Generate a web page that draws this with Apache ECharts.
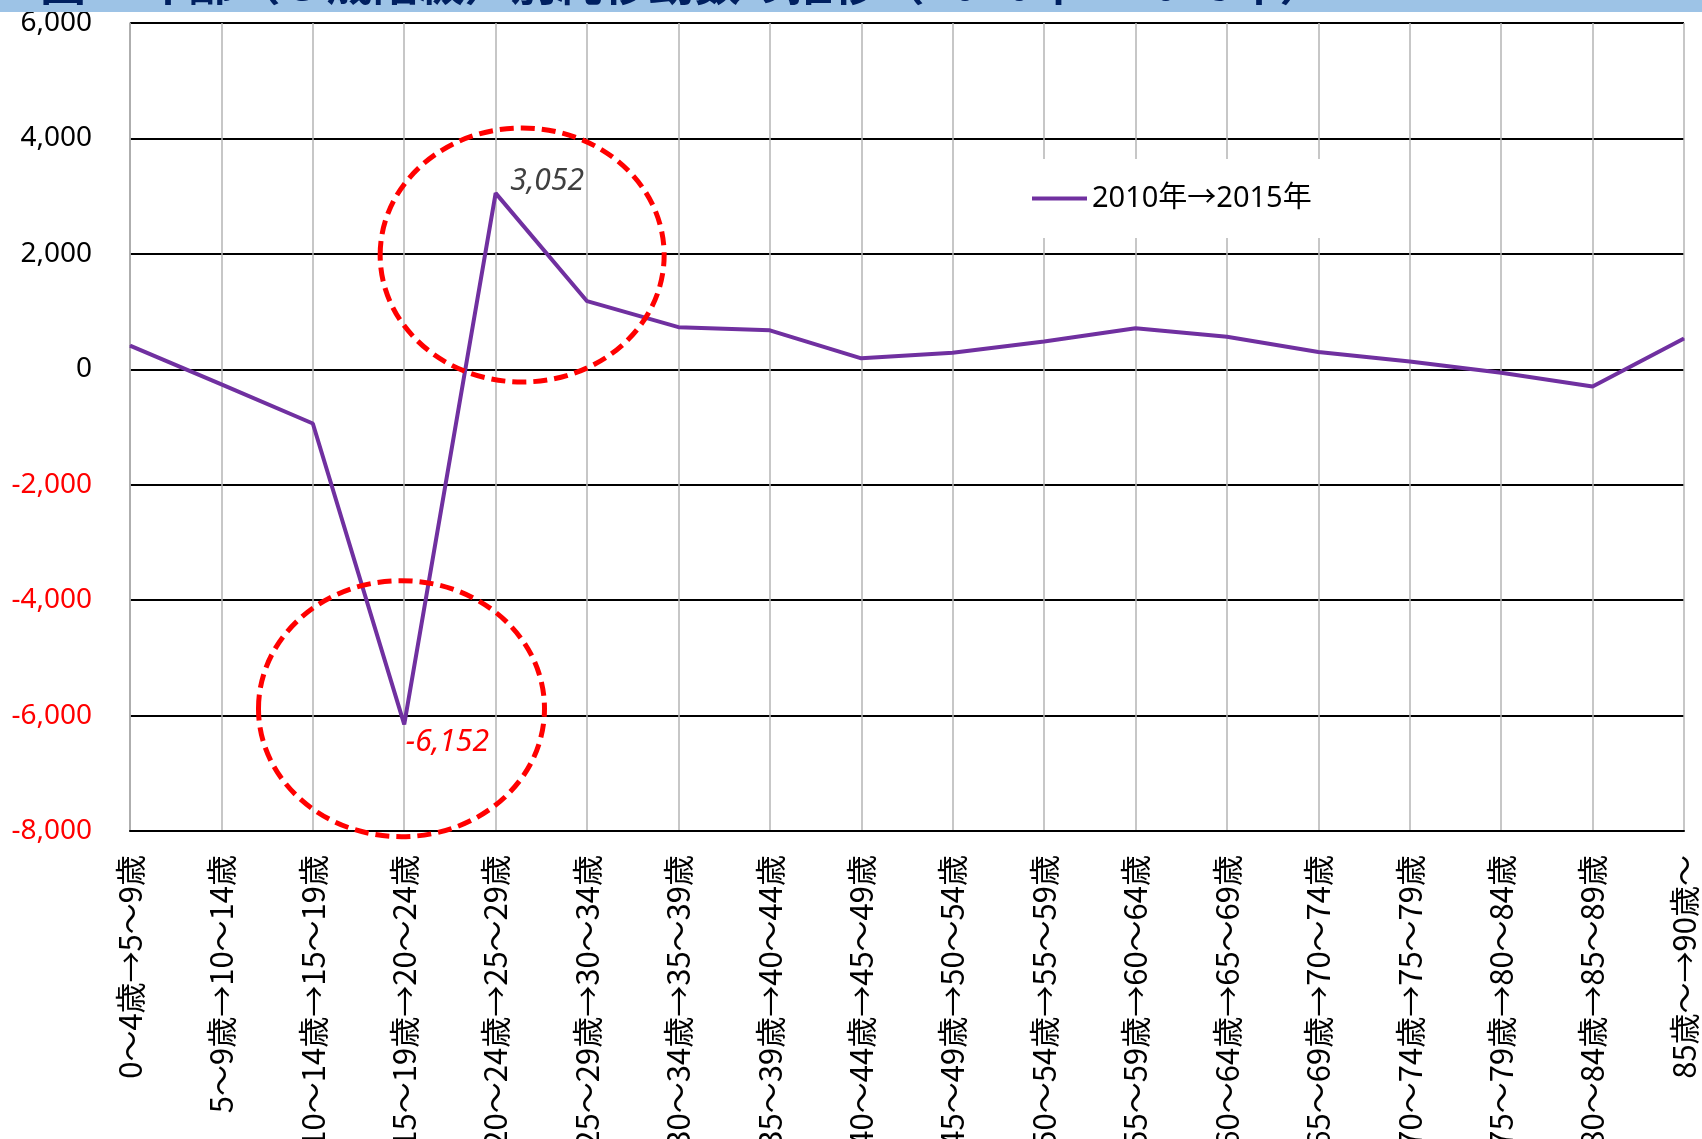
<!DOCTYPE html>
<html>
<head>
<meta charset="utf-8">
<script src="https://cdn.jsdelivr.net/npm/echarts@6/dist/echarts.min.js"></script>
<style>
  html, body { margin: 0; padding: 0; background: #fff; }
  #chart { width: 1702px; height: 1139px; }
</style>
</head>
<body>
<div id="chart"></div>
<script>
// Age-cohort transitions (5-year groups), 2010 -> 2015
const categories = [
  '0～4歳→5～9歳', '5～9歳→10～14歳', '10～14歳→15～19歳', '15～19歳→20～24歳',
  '20～24歳→25～29歳', '25～29歳→30～34歳', '30～34歳→35～39歳', '35～39歳→40～44歳',
  '40～44歳→45～49歳', '45～49歳→50～54歳', '50～54歳→55～59歳', '55～59歳→60～64歳',
  '60～64歳→65～69歳', '65～69歳→70～74歳', '70～74歳→75～79歳', '75～79歳→80～84歳',
  '80～84歳→85～89歳', '85歳～→90歳～'
];
// Net change per cohort
const netChange = [410, -260, -940, -6152, 3052, 1180, 730, 675, 190, 285, 480, 710, 565, 300, 135, -60, -300, 535];
const seriesName = '2010年→2015年';
const yTicks = { min: -8000, max: 6000, step: 2000 };
// Highlighted values (index) and the dashed rings drawn around them: centre in data units, radii in px
const highlights = [
  { index: 4, color: '#404040', offset: [0, -12], distance: 14 },
  { index: 3, color: '#FF0000', offset: [0, 18], distance: 1 }
];
const rings = [
  { x: 4.29, y: 1980, rx: 142, ry: 127 },
  { x: 2.97, y: -5880, rx: 143, ry: 128 }
];
const titleText = '図２ 年齢（５歳階級）別純移動数の推移（2010年→2015年）';

const fmt = v => Number(v).toLocaleString('en-US');
const latin = "'Noto Sans', 'Noto Sans CJK JP', sans-serif";
const cjk = "'Noto Sans CJK JP', sans-serif";

const chart = echarts.init(document.getElementById('chart'), null, { renderer: 'canvas' });

const data = netChange.map((v, i) => {
  const h = highlights.find(o => o.index === i);
  if (!h) return v;
  return {
    value: v,
    label: {
      show: true,
      position: 'right',
      distance: h.distance,
      offset: h.offset,
      formatter: p => fmt(p.value),
      color: h.color,
      fontStyle: 'italic',
      fontSize: 30,
      fontFamily: latin
    }
  };
});

chart.setOption({
  animation: false,
  backgroundColor: '#ffffff',
  grid: { left: 130, top: 23, width: 1554, height: 808, containLabel: false, outerBoundsMode: 'none' },
  legend: {
    data: [seriesName],
    left: 1020,
    top: 159,
    padding: [22, 14, 22, 12],
    backgroundColor: '#ffffff',
    icon: 'rect',
    itemWidth: 55,
    itemHeight: 4,
    itemGap: 5,
    textStyle: { fontSize: 29, color: '#000', fontFamily: latin, lineHeight: 35 }
  },
  xAxis: {
    type: 'category',
    data: categories,
    boundaryGap: false,
    axisLine: { show: true, onZero: false, lineStyle: { color: '#000', width: 2 } },
    axisTick: { show: false },
    splitLine: { show: true, lineStyle: { color: '#b4b4b4', width: 1.5 } },
    axisLabel: {
      interval: 0,
      rotate: 90,
      margin: 24,
      fontSize: 31,
      color: '#000',
      fontFamily: cjk
    }
  },
  yAxis: {
    type: 'value',
    min: yTicks.min,
    max: yTicks.max,
    interval: yTicks.step,
    axisLine: { show: true, lineStyle: { color: '#a6a6a6', width: 1.5 } },
    axisTick: { show: false },
    splitLine: { show: true, lineStyle: { color: '#000', width: 2 } },
    axisLabel: {
      margin: 38,
      fontSize: 28,
      fontFamily: latin,
      formatter: v => fmt(v),
      color: v => (Number(v) < 0 ? '#FF0000' : '#000000')
    }
  },
  series: [{
    name: seriesName,
    type: 'line',
    data: data,
    symbol: 'circle',
    symbolSize: 1,
    showSymbol: true,
    lineStyle: { color: '#7030A0', width: 4 },
    itemStyle: { color: '#7030A0' },
    z: 3
  }]
});

// Pixel position of a fractional category index, interpolated between ticks
function toPixel(xIndex, yValue) {
  const i0 = Math.floor(xIndex);
  const t = xIndex - i0;
  const p0 = chart.convertToPixel({ gridIndex: 0 }, [i0, yValue]);
  const p1 = chart.convertToPixel({ gridIndex: 0 }, [i0 + 1, yValue]);
  return [p0[0] + (p1[0] - p0[0]) * t, p0[1]];
}

// Dashed rings and header band
const ringGraphics = rings.map(r => {
  const [cx, cy] = toPixel(r.x, r.y);
  return {
    type: 'ellipse',
    shape: { cx, cy, rx: r.rx, ry: r.ry },
    style: { fill: 'none', stroke: '#FF0000', lineWidth: 5, lineDash: [14, 7] },
    z: 10
  };
});

chart.setOption({
  graphic: [
    ...ringGraphics,
    {
      type: 'rect',
      shape: { x: 0, y: 0, width: 1702, height: 12 },
      style: { fill: '#9DC3E6' },
      z: 20
    },
    {
      type: 'text',
      left: 40,
      top: -40,
      style: { text: titleText, fill: '#002060', font: "bold 46px 'Noto Sans CJK JP', sans-serif" },
      z: 21
    }
  ]
});
</script>
</body>
</html>
